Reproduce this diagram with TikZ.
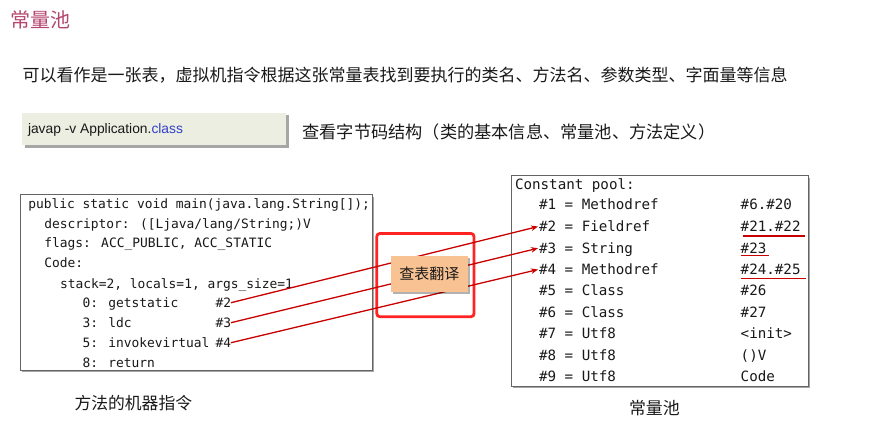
\documentclass[tikz,border=0pt]{standalone}
\usepackage{fontspec}
\setmainfont{Liberation Sans}
\newfontfamily\cjk{Noto Sans CJK SC}
\newfontfamily\codefont{DejaVu Sans Mono}
\usetikzlibrary{shadows,arrows.meta}
\definecolor{titlec}{RGB}{180,70,110}
\definecolor{txt}{RGB}{25,25,25}
\definecolor{javabg}{RGB}{235,238,224}
\definecolor{clsblue}{RGB}{48,64,200}
\definecolor{arrowred}{RGB}{200,0,0}
\definecolor{boxred}{RGB}{255,35,35}
\definecolor{peach}{RGB}{248,194,146}
\definecolor{framec}{RGB}{100,100,100}
\tikzset{
  lbl/.style={inner sep=0pt, outer sep=0pt, anchor=base west, text=txt},
  lcode/.style={lbl, font=\codefont\fontsize{12.9}{14}\selectfont},
  rcode/.style={lbl, font=\codefont\fontsize{14.2}{16}\selectfont},
  cjktext/.style={lbl, font=\cjk\fontsize{#1}{#1}\selectfont},
  panel/.style={draw=framec, line width=0.8pt, fill=white, anchor=north west, inner sep=0pt,
    drop shadow={shadow xshift=2.5pt, shadow yshift=-2.5pt, fill=black, opacity=0.35}},
  conn/.style={draw=arrowred, line width=1.3pt, -{Stealth[length=7pt,width=5.5pt]}, shorten >=1pt},
  uline/.style={draw=arrowred, line width=1.6pt},
}
\begin{document}
\begin{tikzpicture}[x=1pt,y=-1pt]
\useasboundingbox (0,0) rectangle (874,427);

% title and description
\node[cjktext=20, text=titlec] (title) at (10,27.6) {常量池};
\node[cjktext=17] (desc) at (22.5,81.8) {可以看作是一张表，虚拟机指令根据这张常量表找到要执行的类名、方法名、参数类型、字面量等信息};

% javap box
\node[anchor=north west, fill=javabg, minimum width=264pt, minimum height=32.5pt, inner sep=0pt,
      drop shadow={shadow xshift=2.5pt, shadow yshift=-2.5pt, fill=black, opacity=0.35}] (javap) at (22,112.5) {};
\node[lbl, font=\fontsize{13.8}{16}\selectfont] (javaptext) at (28,134) {javap -v Application.\textcolor{clsblue}{class}};
\node[cjktext=17.2] (javapdesc) at (302.5,138.5) {查看字节码结构（类的基本信息、常量池、方法定义）};

% left code panel
\node[panel, minimum width=352pt, minimum height=175pt] (codebox) at (19.5,194.5) {};
\node[lcode] (c1) at (28.3,208.7) {public static void main(java.lang.String[]);};
\node[lcode] (c2) at (44.3,228.2) {descriptor: ([Ljava/lang/String;)V};
\node[lcode] (c3) at (44.3,248) {flags: ACC\_PUBLIC, ACC\_STATIC};
\node[lcode] (c4) at (44.3,268) {Code:};
\node[lcode] (c5) at (60,288) {stack=2, locals=1, args\_size=1};
\node[lcode] (c6) at (82.5,307.4) {0: getstatic};
\node[lcode] (h2) at (215.5,307.4) {\#2};
\node[lcode] (c7) at (82.5,327.4) {3: ldc};
\node[lcode] (h3) at (215.5,327.4) {\#3};
\node[lcode] (c8) at (82.5,347.4) {5: invokevirtual};
\node[lcode] (h4) at (215.5,347.4) {\#4};
\node[lcode] (c9) at (82.5,367) {8: return};
\node[cjktext=16.8] (cap1) at (74.5,409.7) {方法的机器指令};

% right constant pool panel
\node[panel, minimum width=297pt, minimum height=210pt] (poolbox) at (510.5,175.5) {};
\node[rcode] (p0) at (515,189.2) {Constant pool:};
\node[rcode] (r1) at (539,209.7) {\#1 = Methodref};
\node[rcode] (r2) at (539,231.5) {\#2 = Fieldref};
\node[rcode] (r3) at (539,253.2) {\#3 = String};
\node[rcode] (r4) at (539,274.5) {\#4 = Methodref};
\node[rcode] (r5) at (539,295.9) {\#5 = Class};
\node[rcode] (r6) at (539,317.5) {\#6 = Class};
\node[rcode] (r7) at (539,338.9) {\#7 = Utf8};
\node[rcode] (r8) at (539,360.2) {\#8 = Utf8};
\node[rcode] (r9) at (539,381.9) {\#9 = Utf8};
\node[rcode] (v1) at (740.7,209.7) {\#6.\#20};
\node[rcode] (v2) at (740.7,231.5) {\#21.\#22};
\node[rcode] (v3) at (740.7,253.2) {\#23};
\node[rcode] (v4) at (740.7,274.5) {\#24.\#25};
\node[rcode] (v5) at (740.7,295.9) {\#26};
\node[rcode] (v6) at (740.7,317.5) {\#27};
\node[rcode] (v7) at (740.7,338.9) {<init>};
\node[rcode] (v8) at (740.7,360.2) {()V};
\node[rcode] (v9) at (740.7,381.9) {Code};
\node[cjktext=16.9] (cap2) at (629,414.7) {常量池};

% underlines
\draw[uline] ([xshift=2pt,yshift=-4.3pt]v2.base west) -- ++(62,0);
\draw[uline] ([yshift=-2.5pt]v3.base west) -- ++(28.5,0);
\draw[uline] ([yshift=-3.8pt]v4.base west) -- ++(65,0);

% red box
\node[draw=boxred, line width=2.8pt, rounded corners=3pt, minimum width=97.2pt, minimum height=83.2pt,
      inner sep=0pt, anchor=north west] (redbox) at (375.4,232.1) {};

% connectors
\draw[conn] ([yshift=4.7pt]h2.base east) -- ([yshift=5.2pt]r2.base west);
\draw[conn] ([yshift=4.7pt]h3.base east) -- ([yshift=5.2pt]r3.base west);
\draw[conn] ([yshift=4.7pt]h4.base east) -- ([yshift=5.2pt]r4.base west);

% translation label
\node[fill=peach, minimum width=76.7pt, minimum height=35.7pt, inner sep=0pt, text=txt,
      font=\cjk\fontsize{15}{15}\selectfont,
      drop shadow={shadow xshift=2pt, shadow yshift=-2pt, fill=black, opacity=0.3}] (lookup) at (429.3,273.8) {查表翻译};
\end{tikzpicture}
\end{document}
